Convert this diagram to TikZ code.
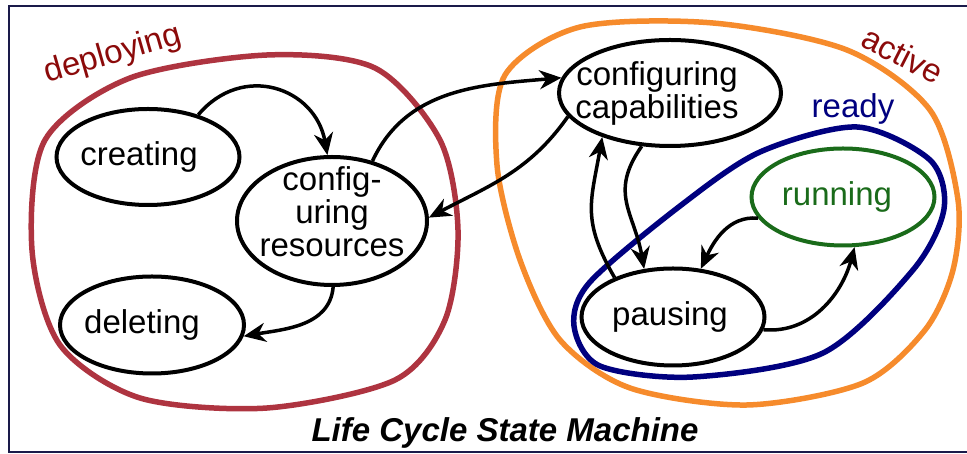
\documentclass[tikz,border=0pt]{standalone}
\usepackage{fontspec}
\setmainfont{Liberation Sans}
\usetikzlibrary{arrows.meta,shapes.geometric}
\definecolor{deploycol}{HTML}{AE3440}
\definecolor{activecol}{HTML}{F68B2C}
\definecolor{readycol}{HTML}{00007F}
\definecolor{runcol}{HTML}{1A6B1A}
\definecolor{grouplbl}{HTML}{8B0A0A}
\definecolor{framecol}{HTML}{1A1A4A}

\begin{document}
\begin{tikzpicture}[x=1pt,y=1pt,font=\fontsize{33}{33}\selectfont,
    stnode/.style={ellipse,draw,line width=4pt,inner sep=0pt},
    trans/.style={line width=3.5pt,-{Stealth[length=22pt,width=19pt,inset=7pt]}},
    group/.style={line width=5.5pt,line join=round}]
  \useasboundingbox (0,0) rectangle (967,454);
  \draw[framecol,line width=2pt] (967,448) -| (9,2) -- (967,2);

  % groups of states
  \draw[group,deploycol] plot[smooth cycle] coordinates {
    (267,399) (375,386) (440,314) (458,224) (445,134) (395,74)
    (267,46) (140,56) (60,109) (32,204) (45,314) (130,376)};
  \draw[group,activecol] plot[smooth cycle] coordinates {
    (580,427) (713,431) (847,404) (930,344) (958,254) (953,184)
    (925,124) (863,71) (747,49) (630,66) (560,114) (520,194)
    (497,289) (505,379)};
  \draw[group,readycol] plot[smooth cycle] coordinates {
    (574,128) (590,172) (680,248) (760,302) (857,327) (930,294)
    (944,245) (913,184) (823,101) (693,77) (600,88)};
  \node[grouplbl,rotate=16] (lbldeploy) at (113,399) {deploying};
  \node[grouplbl,rotate=-27] (lblactive) at (903,399) {active};
  \node[readycol] (lblready) at (853,345) {ready};

  % states
  \node[stnode,minimum width=183pt,minimum height=96pt,
    label={[xshift=-9pt]center:creating}] (creating) at (148,297) {};
  \node[stnode,minimum width=190pt,minimum height=128pt,
    label={[align=center,yshift=9pt]center:config-\\uring\\resources}] (confres) at (332,233) {};
  \node[stnode,minimum width=184pt,minimum height=97pt,
    label={[xshift=-10pt]center:deleting}] (deleting) at (152,129) {};
  \node[stnode,minimum width=222pt,minimum height=106pt,
    label={[align=center,xshift=-13pt]center:configuring\\capabilities}] (confcap) at (670,361) {};
  \node[stnode,runcol,minimum width=183pt,minimum height=97pt,
    label={[runcol,xshift=-6pt]center:running}] (running) at (843,257) {};
  \node[stnode,minimum width=183pt,minimum height=97pt,
    label={[xshift=-3pt]center:pausing}] (pausing) at (673,137) {};

  % transitions
  \draw[trans] (creating.40) to[out=50,in=100,looseness=1.3] (confres.94);
  \draw[trans] (confres.56) to[out=65,in=185] (confcap.172);
  \draw[trans] (confcap.193) to[out=235,in=28] (confres.2);
  \draw[trans] (confres.-89) to[out=-95,in=10] (deleting.-7);
  \draw[trans] (confcap.242) to[out=235,in=100,looseness=1.2] (pausing.121);
  \draw[trans] (pausing.146) to[out=120,in=-100,looseness=1.2] (confcap.213);
  \draw[trans] (running.194) to[out=175,in=65] (pausing.60);
  \draw[trans] (pausing.-8) to[out=-5,in=-105] (running.-77);

  \node[font=\fontsize{33}{36}\selectfont\bfseries\itshape,anchor=base] (title) at (505,12) {Life Cycle State Machine};
\end{tikzpicture}
\end{document}
